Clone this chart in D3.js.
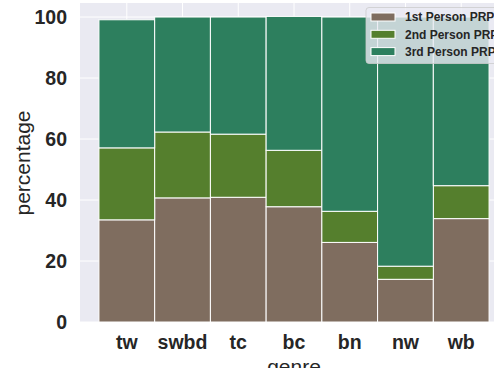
<!DOCTYPE html>
<html><head><meta charset="utf-8">
<script src="https://cdn.jsdelivr.net/npm/d3@7"></script>
<style>body{margin:0;background:#fff;} svg{display:block;}</style>
</head><body>
<svg id="chart" width="494" height="368"></svg>
<script>
const categories = ["tw","swbd","tc","bc","bn","nw","wb"];
const seriesNames = ["1st Person PRP","2nd Person PRP","3rd Person PRP"];
const firstPerson = [33.5,40.7,40.9,37.8,26.1,14.0,33.9];
const secondPerson = [23.6,21.6,20.7,18.5,10.2,4.3,10.8];
const thirdPerson = [42.0,37.7,38.4,43.9,63.7,81.7,55.3];
const yTicks = [0,20,40,60,80,100];
const colors = ["#7f6d5f","#557f2d","#2d7f5e"];

const svg = d3.select("#chart");
const mLeft = 80, mRight = 508, mTop = 3, mBottom = 322;
const x = d3.scaleLinear().domain([-0.84, 6.84]).range([mLeft, mRight]);
const y = d3.scaleLinear().domain([0, 104.6]).range([mBottom, mTop]);

svg.append("defs").append("clipPath").attr("id","clip")
  .append("rect").attr("x",mLeft).attr("y",mTop).attr("width",mRight-mLeft).attr("height",mBottom-mTop);

svg.append("rect").attr("x",mLeft).attr("y",mTop).attr("width",mRight-mLeft).attr("height",mBottom-mTop).attr("fill","#eaeaf2");

const g = svg.append("g").attr("clip-path","url(#clip)");
g.selectAll(".hg").data(yTicks).enter().append("line")
  .attr("x1",mLeft).attr("x2",mRight).attr("y1",d=>y(d)).attr("y2",d=>y(d))
  .attr("stroke","#fff").attr("stroke-width",1);
g.selectAll(".vg").data(categories.map((c,i)=>i)).enter().append("line")
  .attr("y1",mTop).attr("y2",mBottom).attr("x1",d=>x(d)).attr("x2",d=>x(d))
  .attr("stroke","#fff").attr("stroke-width",1);

const rows = categories.map((c,i)=>({cat:c, i, "1st Person PRP":firstPerson[i], "2nd Person PRP":secondPerson[i], "3rd Person PRP":thirdPerson[i]}));
const stacked = d3.stack().keys(seriesNames)(rows);
stacked.forEach((layer, k) => {
  g.selectAll(".b"+k).data(layer).enter().append("rect")
    .attr("x", d => x(d.data.i - 0.5))
    .attr("width", d => x(d.data.i + 0.5) - x(d.data.i - 0.5))
    .attr("y", d => y(d[1]))
    .attr("height", d => y(d[0]) - y(d[1]))
    .attr("fill", colors[k]).attr("stroke","#fff").attr("stroke-width",1);
});

const font = "Liberation Sans, Arial, sans-serif";
svg.selectAll(".yt").data(yTicks).enter().append("text")
  .attr("x", 67).attr("y", d => y(d)).attr("dy","0.36em")
  .attr("text-anchor","end").attr("font-family",font)
  .attr("font-weight","bold").attr("font-size",19.5).attr("fill","#262626").text(d=>d);
svg.selectAll(".xt").data(categories).enter().append("text")
  .attr("x",(d,i)=>x(i)).attr("y",349).attr("text-anchor","middle")
  .attr("font-family",font)
  .attr("font-weight","bold").attr("font-size",19.5).attr("fill","#262626").text(d=>d);
svg.append("text").attr("transform",`translate(30,163) rotate(-90)`)
  .attr("text-anchor","middle").attr("font-family",font)
  .attr("font-size",21).attr("fill","#262626").text("percentage");
svg.append("text").attr("x",(mLeft+mRight)/2).attr("y",374).attr("text-anchor","middle")
  .attr("font-family",font)
  .attr("font-size",21).attr("fill","#262626").text("genre");

const lg = svg.append("g");
lg.append("rect").attr("x",366).attr("y",7.5).attr("width",150).attr("height",56).attr("rx",3)
  .attr("fill","#eaeaf2").attr("fill-opacity",0.8).attr("stroke","#cccccc").attr("stroke-opacity",0.8);
seriesNames.forEach((s,k)=>{
  const yy = 17 + k*17.3;
  lg.append("rect").attr("x",371).attr("y",yy-4).attr("width",24).attr("height",8)
    .attr("fill",colors[k]).attr("stroke","#fff").attr("stroke-width",1);
  lg.append("text").attr("x",405).attr("y",yy).attr("dy","0.36em")
    .attr("font-family",font).attr("font-weight","bold")
    .attr("font-size",12).attr("fill","#262626").text(s);
});
</script>
</body></html>
